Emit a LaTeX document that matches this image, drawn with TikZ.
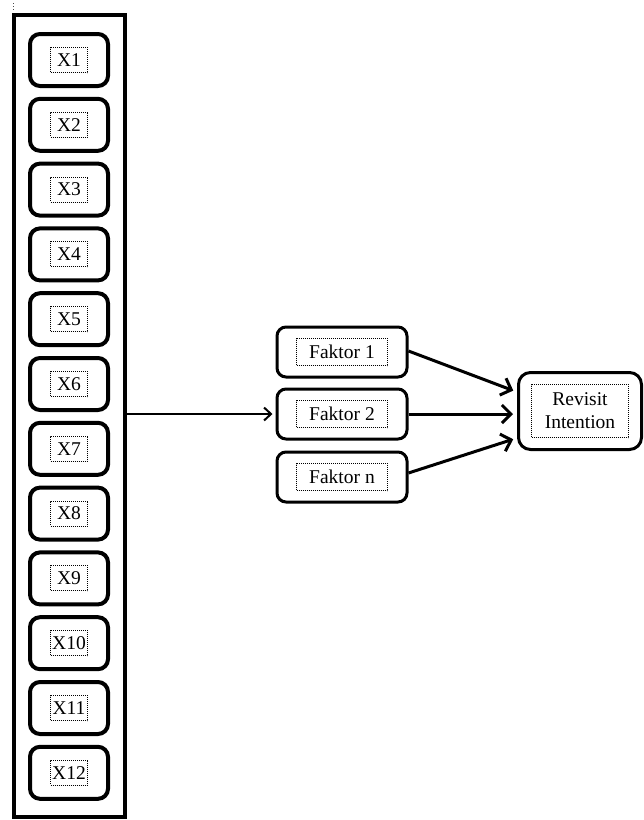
\documentclass[tikz,border=0pt]{standalone}
\usepackage{fontspec}
\setmainfont{Liberation Serif}
\usetikzlibrary{arrows.meta,calc}

\tikzset{
  frame/.style={draw=black, line width=4pt, rounded corners=10pt,
    minimum width=78pt, minimum height=52pt, inner sep=0pt},
  fbox/.style={draw=black, line width=3pt, rounded corners=9pt,
    minimum width=130pt, minimum height=50pt, inner sep=0pt},
  rbox/.style={draw=black, line width=3pt, rounded corners=12pt,
    minimum width=123pt, minimum height=77pt, inner sep=0pt},
  tag/.style={draw=black, dash pattern=on 1pt off 1pt, line width=1pt, inner sep=0pt,
    font=\fontsize{19.5}{23}\selectfont, align=center},
  link/.style={line width=3pt, -{Straight Barb[length=9pt,width=18pt,line width=3pt]},
    shorten >=4pt},
}

\begin{document}
\begin{tikzpicture}[x=1pt, y=-1pt]
  \useasboundingbox (0,0) rectangle (644,820);

  % tiny dotted marker at the upper left corner
  \coordinate (m1) at (13,3);
  \coordinate (m2) at (13,12);
  \draw[dotted, line width=1pt, black!70] (m1) -- (m2);

  % tall panel holding the twelve variables
  \node[draw=black, line width=4pt, minimum width=111pt, minimum height=802pt,
        inner sep=0pt] (panel) at (69.5,416) {};

  \foreach \i in {1,...,12} {
    \node[frame] (x\i) at (69, {60+64.8*(\i-1)}) {};
    \node[tag, minimum width=37pt, minimum height=25pt] (t\i) at (x\i) {X\i};
  }

  % factor boxes
  \node[fbox] (f1) at (342,352) {};
  \node[tag, minimum width=91pt, minimum height=27pt] (tf1) at (f1) {Faktor 1};
  \node[fbox] (f2) at (342,414) {};
  \node[tag, minimum width=91pt, minimum height=27pt] (tf2) at (f2) {Faktor 2};
  \node[fbox] (fn) at (342,477) {};
  \node[tag, minimum width=91pt, minimum height=27pt] (tfn) at (fn) {Faktor n};

  % outcome box
  \node[rbox] (rev) at (580,411) {};
  \node[tag, minimum width=97pt, minimum height=53pt] (trev) at (rev) {Revisit\\Intention};

  % connectors
  \draw[line width=2pt, -{Straight Barb[length=7pt,width=13pt,line width=2pt]},
        shorten >=3pt] (panel.east |- f2.west) -- (f2.west);

  \draw[link] ([yshift=1pt]f1.east) -- ([yshift=19pt]rev.west);
  \draw[link] (f2.east) -- (f2.east -| rev.west);
  \draw[link] ([yshift=4pt]fn.east) -- ([yshift=-27pt]rev.west);
\end{tikzpicture}
\end{document}
